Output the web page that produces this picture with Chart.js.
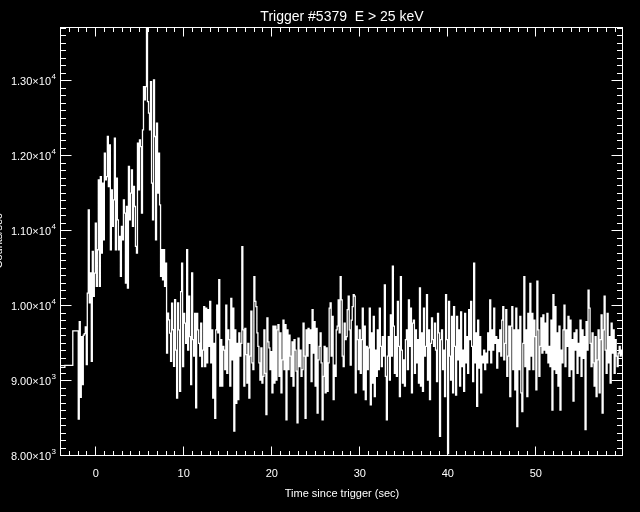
<!DOCTYPE html>
<html>
<head>
<meta charset="utf-8">
<title>Trigger #5379 E > 25 keV</title>
<script src="https://cdn.jsdelivr.net/npm/chart.js@4.4.1/dist/chart.umd.min.js"></script>
<style>
  html, body { margin: 0; padding: 0; background: #000; }
  canvas { display: block; }
</style>
</head>
<body>
<canvas id="lcChart" width="640" height="512"></canvas>
<script>
// coarse pre-trigger bins
var preTimes = [-3.94, -3.5, -2.6];
var preCounts = [9170, 9195, 9655];

// fine bins start at fineStart, one every binWidth seconds
var fineStart = -1.98;
var binWidth = 0.114;

// -2 s .. 9 s (burst)
var burstCounts = [
  8480, 9780, 8770, 9580, 8940, 9600, 9620, 9710, 9205, 10160,
  11270, 10030, 10430, 9250, 10715, 10115, 10427, 11093, 10249, 10738,
  11671, 10249, 11715, 10693, 11626, 10871, 12026, 11671, 11715, 12249,
  11582, 12137, 10738, 11537, 11049, 11404, 12226, 10738, 11693, 11137,
  10738, 10915, 10382, 11049, 10871, 11404, 11226, 10293, 11315, 10226,
  11849, 11137, 11493, 11804, 11049, 11582, 11315, 10782, 10693, 12160,
  11537, 12204, 12115, 11226, 12337, 12915, 12737, 12915, 13710, 12715,
  12560, 12337, 12982, 11626, 11137, 13004, 12249, 10871, 12426, 11493,
  12026, 11337, 10382, 10738, 10338, 10738, 10249, 10560, 9360, 9893,
  9804, 9627, 9249, 10027, 9671, 9182, 10071
];

// 9 s .. 18.6 s
var tailCounts1 = [
  9400, 8760, 10030, 9670, 8850, 10180, 10560, 9180, 9890, 9760,
  9490, 10740, 9400, 10120, 9580, 8940, 10430, 9540, 9320, 9890,
  8630, 9890, 9670, 9490, 9320, 9760, 9180, 9400, 9980, 9180,
  9960, 9230, 9940, 9450, 10050, 9230, 9670, 8760, 9490, 8490,
  9670, 10000, 9630, 10340, 8920, 9540, 8920, 9450, 9400, 9140,
  10000, 9090, 9670, 9540, 8920, 10090, 9270, 9960, 8320, 9670,
  8690, 9490, 8740, 9630, 9320, 9490, 10780, 9670, 8920, 9690,
  9340, 8960, 9490, 8760, 9320, 9920, 9230, 9140, 10380, 10050,
  9980, 9630, 9450, 9230, 9000
];

// 18.7 s .. 28.9 s
var tailCounts2 = [
  9430, 8960, 9050, 9670, 9090, 8540, 9830, 9510, 9430, 9140,
  9380, 8830, 9720, 8960, 9720, 9000, 9670, 9740, 9050, 9630,
  8830, 9270, 9800, 9140, 9740, 8470, 9670, 9140, 9600, 9320,
  9050, 9510, 8920, 9540, 9400, 9120, 8430, 9560, 9180, 9400,
  9050, 9140, 9760, 9320, 8490, 9670, 9320, 9690, 9490, 9670,
  8980, 9940, 9360, 9780, 8920, 9690, 8560, 9270, 9450, 9630,
  9230, 8470, 9050, 9450, 8830, 9430, 8850, 9230, 9960, 10030,
  9320, 9850, 8740, 9200, 9050, 9670, 9720, 10070, 9630, 10380,
  10070, 9320, 9180, 9760, 9540, 9580, 9940, 10120, 9670, 9200
];

// 29 s .. 39.2 s
var tailCounts3 = [
  9800, 9980, 10140, 10120, 8830, 9720, 9540, 9140, 9670, 9090,
  9540, 9960, 8870, 9720, 8740, 9450, 9140, 9430, 9960, 8670,
  9630, 8960, 9850, 8780, 9400, 9050, 9670, 9140, 9960, 9450,
  9180, 9580, 9320, 10270, 9050, 8470, 9320, 9580, 9000, 9870,
  9320, 10520, 9720, 9090, 9580, 9050, 10050, 9450, 8780, 10380,
  9400, 8960, 9270, 8920, 9540, 9670, 9140, 10070, 9450, 9960,
  8830, 9760, 9800, 9090, 9670, 9230, 9540, 8960, 10230, 8920,
  9630, 8850, 9960, 9320, 9450, 10140, 9000, 9670, 8740, 9490,
  9830, 9540, 9450, 9760, 9400, 8980, 9890, 9630, 8250, 9540
];

// 39.3 s .. 49.4 s
var tailCounts4 = [
  9670, 9140, 9400, 8780, 10140, 9540, 8020, 10050, 9320, 9000,
  9850, 8830, 9980, 9450, 8800, 9850, 9270, 9670, 8920, 9910,
  9180, 9400, 8850, 9890, 9230, 9580, 9090, 9940, 9540, 10050,
  9450, 8980, 10560, 9230, 9630, 8650, 9800, 9160, 9580, 8830,
  9320, 9230, 9400, 9140, 9360, 9230, 9630, 9400, 10070, 9230,
  9670, 9400, 9960, 9490, 9580, 9160, 9540, 9380, 9670, 9320,
  9800, 9980, 9270, 9490, 9940, 9050, 9320, 9720, 8780, 9720,
  9980, 9140, 9670, 8870, 9960, 8380, 9670, 9140, 9850, 8830,
  8580, 9490, 10380, 9180, 9670, 8780, 9890, 9140, 10290, 9320
];

// 49.5 s .. 59.9 s
var tailCounts5 = [
  9890, 9140, 9800, 9580, 8870, 10320, 9670, 9050, 9450, 9830,
  9360, 9870, 9400, 9760, 9360, 9890, 9230, 9450, 9180, 9800,
  8600, 10140, 9140, 9980, 9090, 9630, 8920, 9720, 8600, 9400,
  9230, 9670, 10000, 9180, 9670, 9450, 9850, 9050, 9800, 9140,
  9540, 8720, 9630, 9400, 9670, 9090, 9490, 9320, 9800, 9050,
  9670, 9290, 9580, 8340, 9780, 9400, 10200, 9960, 9490, 9180,
  9630, 9230, 8920, 9580, 8780, 9270, 9670, 8830, 9540, 9870,
  8560, 9670, 10120, 9400, 9090, 9890, 9230, 9580, 8960, 9760,
  9360, 9670, 9090, 9540, 9320, 9180, 9360, 9450, 9320, 9400,
  9340, 9400
];

var xTicks = [0, 10, 20, 30, 40, 50];
var yTicks = [8000, 9000, 10000, 11000, 12000, 13000];
var xRange = [-3.94, 59.9];
var yRange = [8000, 13710];

var titleText = 'Trigger #5379  E > 25 keV';
var xTitle = 'Time since trigger (sec)';
var yTitle = 'Counts/sec';

var fontFamily = '"Liberation Sans", Arial, sans-serif';

var fineCounts = burstCounts.concat(tailCounts1, tailCounts2, tailCounts3, tailCounts4, tailCounts5);
var points = [];
preTimes.forEach(function(t, i) {
    points.push({ x: t, y: preCounts[i] });
});
fineCounts.forEach(function(c, i) {
    points.push({ x: fineStart + i * binWidth, y: c });
});

// IDL style frame: inward ticks on all four sides, labels, titles
var idlFrame = {
    id: 'idlFrame',
    beforeDraw: function(chart) {
        var ctx = chart.ctx;
        ctx.save();
        ctx.fillStyle = '#000';
        ctx.fillRect(0, 0, chart.width, chart.height);
        ctx.restore();
    },
    afterDraw: function(chart) {
        var ctx = chart.ctx;
        var area = chart.chartArea;
        var xs = chart.scales.x, ys = chart.scales.y;
        var L = Math.round(area.left) - 0.5, R = Math.round(area.right) - 0.5;
        var T = Math.round(area.top) + 0.5, B = Math.round(area.bottom) + 0.5;

        ctx.save();
        ctx.strokeStyle = '#fff';
        ctx.lineWidth = 1;
        ctx.strokeRect(L, T, R - L, B - T);

        ctx.beginPath();
        for (var t = Math.ceil(xRange[0]); t <= xRange[1]; t++) {
            var px = Math.floor(xs.getPixelForValue(t)) + 0.5;
            var lx = (t % 10 === 0) ? 9 : 4.5;
            ctx.moveTo(px, B); ctx.lineTo(px, B - lx);
            ctx.moveTo(px, T); ctx.lineTo(px, T + lx);
        }
        for (var v = yRange[0]; v <= yRange[1]; v += 100) {
            var py = Math.round(ys.getPixelForValue(v)) + 0.5;
            var ly = (v % 1000 === 0) ? 11 : 5.5;
            ctx.moveTo(L, py); ctx.lineTo(L + ly, py);
            ctx.moveTo(R, py); ctx.lineTo(R - ly, py);
        }
        ctx.stroke();

        ctx.fillStyle = '#fff';
        ctx.textBaseline = 'alphabetic';

        // x tick labels
        ctx.font = '11px ' + fontFamily;
        ctx.textAlign = 'center';
        xTicks.forEach(function(t) {
            ctx.fillText(String(t), xs.getPixelForValue(t), B + 21);
        });

        // y tick labels, m.mm x 10^e
        yTicks.forEach(function(v) {
            var e = Math.floor(Math.log10(v));
            var mant = (v / Math.pow(10, e)).toFixed(2);
            var py = ys.getPixelForValue(v);
            ctx.font = '11px ' + fontFamily;
            ctx.textAlign = 'right';
            ctx.fillText(mant + '\u00d710', L - 9.5, py + 5);
            ctx.font = '8px ' + fontFamily;
            ctx.textAlign = 'left';
            ctx.fillText(String(e), L - 9, py - 1);
        });

        // titles
        var cx = (area.left + area.right) / 2;
        ctx.textAlign = 'center';
        ctx.font = '14px ' + fontFamily;
        ctx.fillText(titleText, cx, 21);
        ctx.font = '11px ' + fontFamily;
        ctx.fillText(xTitle, cx, B + 41);

        // y title sits mostly off the left edge
        ctx.translate(1.5, (area.top + area.bottom) / 2);
        ctx.rotate(-Math.PI / 2);
        ctx.fillText(yTitle, 0, 0);
        ctx.restore();
    }
};

var ctx = document.getElementById('lcChart').getContext('2d');
var lcChart = new Chart(ctx, {
    type: 'line',
    data: {
        datasets: [{
            label: 'Counts',
            data: points,
            borderColor: '#fff',
            borderWidth: 1.3,
            pointRadius: 0,
            fill: false,
            stepped: 'before'
        }]
    },
    options: {
        responsive: false,
        animation: false,
        devicePixelRatio: 1,
        layout: { padding: { top: 27, right: 17, bottom: 0, left: 0 } },
        plugins: {
            legend: { display: false },
            tooltip: { enabled: false }
        },
        scales: {
            x: {
                type: 'linear',
                min: xRange[0],
                max: xRange[1],
                grid: { display: false },
                border: { display: false },
                ticks: { display: false },
                afterBuildTicks: function(scale) {
                    scale.ticks = xTicks.map(function(v) { return { value: v }; });
                },
                afterFit: function(scale) { scale.height = 57; }
            },
            y: {
                type: 'linear',
                min: yRange[0],
                max: yRange[1],
                grid: { display: false },
                border: { display: false },
                ticks: { display: false },
                afterBuildTicks: function(scale) {
                    scale.ticks = yTicks.map(function(v) { return { value: v }; });
                },
                afterFit: function(scale) { scale.width = 61; }
            }
        }
    },
    plugins: [idlFrame]
});
</script>
</body>
</html>
